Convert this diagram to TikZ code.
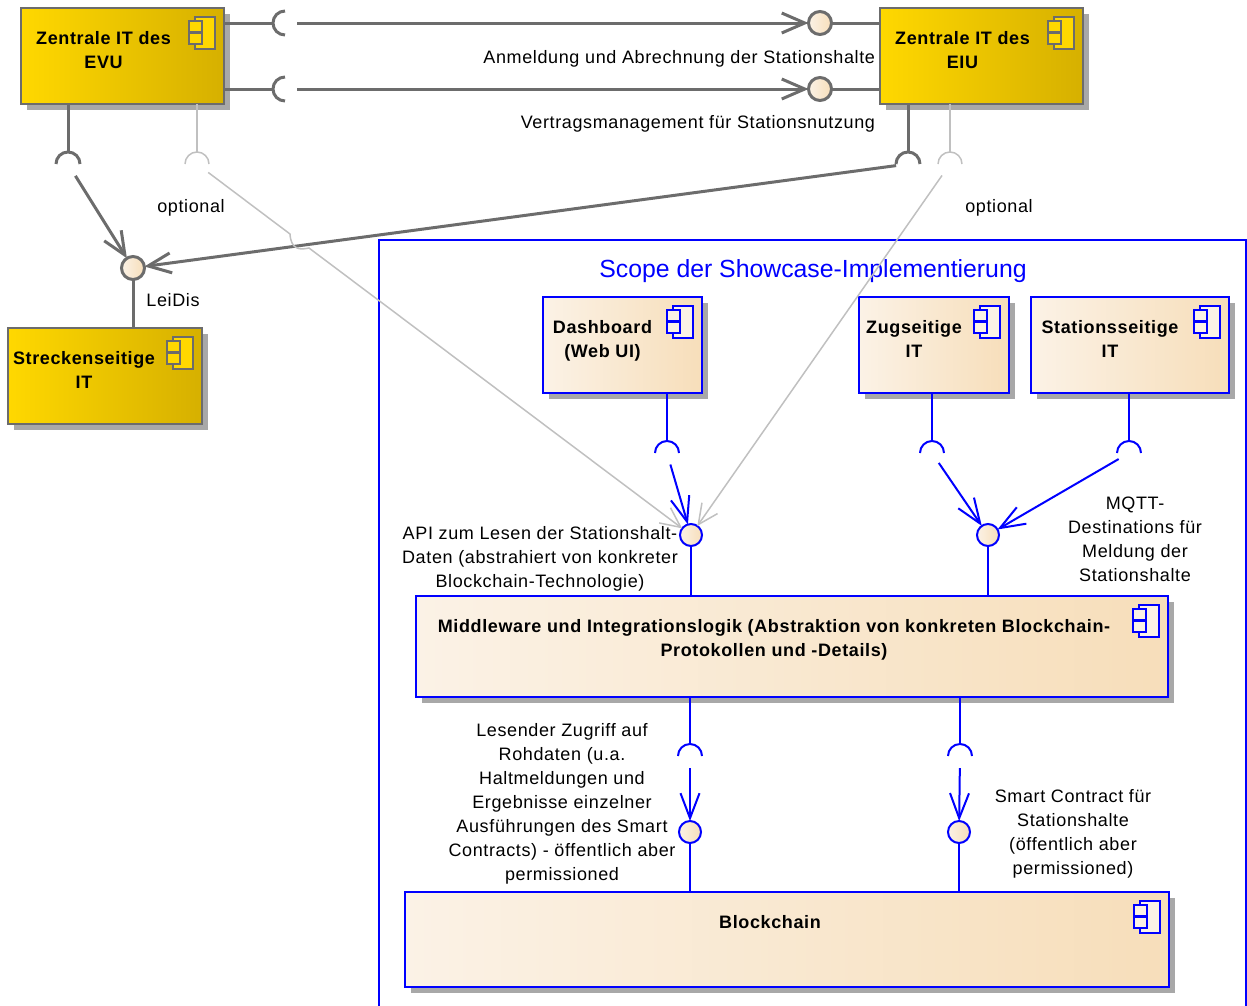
\documentclass[tikz,border=0pt]{standalone}
\usepackage{fontspec}
\setmainfont{Liberation Sans}[LetterSpace=3.5]
\newfontfamily\titlefont{Liberation Sans}
\usetikzlibrary{shadows,positioning,arrows.meta,calc}

\definecolor{umlblue}{RGB}{0,0,255}
\definecolor{umlgrey}{RGB}{108,108,108}
\definecolor{optgrey}{RGB}{192,192,192}
\definecolor{shadowgrey}{RGB}{168,168,168}
\definecolor{goldL}{RGB}{255,216,0}
\definecolor{goldR}{RGB}{214,176,0}
\definecolor{beigeL}{RGB}{251,242,230}
\definecolor{beigeR}{RGB}{247,222,186}

\tikzset{every node/.style={font=\fontsize{18}{24}\selectfont, inner sep=0pt, outer sep=0pt},
        component/.style={draw, anchor=north west,
                          drop shadow={shadow xshift=6pt, shadow yshift=-6pt, fill=shadowgrey, opacity=1}},
        extcomp/.style={component, draw=umlgrey, line width=1.5pt, left color=goldL, right color=goldR},
        scopecomp/.style={component, draw=umlblue, line width=2pt, left color=beigeL, right color=beigeR},
        comptext/.style={anchor=north, align=center, font=\fontsize{18}{24}\selectfont\bfseries},
        lbl/.style={align=center},
        darkprov/.style={circle, draw=umlgrey, line width=3pt, minimum size=23pt, left color=beigeL, right color=beigeR},
        blueprov/.style={circle, draw=umlblue, line width=2pt, minimum size=22pt, left color=beigeL, right color=beigeR},
        darkconn/.style={draw=umlgrey, line width=3pt},
        optconn/.style={draw=optgrey, line width=1.5pt},
        blueconn/.style={draw=umlblue, line width=2pt},
        usearrow/.style={-{Straight Barb[length=23pt, width=20pt]}},
        bluearrow/.style={-{Straight Barb[length=25pt, width=19pt]}},
        optarrow/.style={-{Straight Barb[length=20pt, width=19pt]}},
        compicon/.pic={
            \path[pic actions] (-29,-9) rectangle (-9,-41);
            \path[pic actions] (-35,-13) rectangle (-22,-24);
            \path[pic actions] (-35,-25) rectangle (-22,-36);
        },
        }

\begin{document}
\begin{tikzpicture}[x=1pt, y=1pt]
    \useasboundingbox (0,0) rectangle (1247,-1005);
    \clip (0,0) rectangle (1247,-1005);

    % scope frame
    \draw[umlblue, line width=2pt] (379,-1010) |- (1246,-240) -- (1246,-1010);
    \node[font=\titlefont\fontsize{24.8}{30}\selectfont, text=umlblue, anchor=base] (scopetitle) at (813,-277) {Scope der Showcase-Implementierung};

    % components
    \node[extcomp, minimum width=203pt, minimum height=96pt] (evu) at (21,-8) {};
    \node[extcomp, minimum width=203pt, minimum height=96pt] (eiu) at (880,-8) {};
    \node[extcomp, minimum width=194pt, minimum height=96pt] (strecke) at (8,-328) {};
    \node[scopecomp, minimum width=159pt, minimum height=96pt] (dash) at (543,-297) {};
    \node[scopecomp, minimum width=150pt, minimum height=96pt] (zug) at (859,-297) {};
    \node[scopecomp, minimum width=198pt, minimum height=96pt] (stat) at (1031,-297) {};
    \node[scopecomp, minimum width=752pt, minimum height=101pt] (mw) at (416,-596) {};
    \node[scopecomp, minimum width=764pt, minimum height=95pt] (bc) at (405,-892) {};

    \node[comptext] (evutext) at ([xshift=-19pt, yshift=-23pt]evu.north) {Zentrale IT des\\EVU};
    \node[comptext] (eiutext) at ([xshift=-19pt, yshift=-23pt]eiu.north) {Zentrale IT des\\EIU};
    \node[comptext] (strecketext) at ([xshift=-21pt, yshift=-23pt]strecke.north) {Streckenseitige\\IT};
    \node[comptext] (dashtext) at ([xshift=-20pt, yshift=-23pt]dash.north) {Dashboard\\(Web UI)};
    \node[comptext] (zugtext) at ([xshift=-20pt, yshift=-23pt]zug.north) {Zugseitige\\IT};
    \node[comptext] (stattext) at ([xshift=-20pt, yshift=-23pt]stat.north) {Stationsseitige\\IT};
    \node[comptext] (mwtext) at ([xshift=-18pt, yshift=-23pt]mw.north) {Middleware und Integrationslogik (Abstraktion von konkreten Blockchain-\\Protokollen und -Details)};
    \node[comptext] (bctext) at ([xshift=-17pt, yshift=-23pt]bc.north) {Blockchain};

    \foreach \c in {evu,eiu,strecke}
        \pic[draw=umlgrey, fill=goldL, line width=1.5pt] at (\c.north east) {compicon};
    \foreach \c in {dash,zug,stat,mw,bc}
        \pic[draw=umlblue, fill=beigeL, line width=1.5pt] at (\c.north east) {compicon};

    % provided interfaces
    \node[darkprov] (anm) at (820,-23) {};
    \node[darkprov] (vtr) at (820,-89) {};
    \node[darkprov] (leidis) at (133,-268) {};
    \node[blueprov] (api) at (691,-535) {};
    \node[blueprov] (mqtt) at (988,-535) {};
    \node[blueprov] (rohd) at (690,-832) {};
    \node[blueprov] (smart) at (959,-832) {};

    % required interfaces
    \coordinate (sanm) at (285,-23);
    \coordinate (svtr) at (285,-89);
    \coordinate (sevu) at (68,-164);
    \coordinate (sevuopt) at (197,-164);
    \coordinate (seiu) at (908,-164);
    \coordinate (seiuopt) at (950,-164);
    \coordinate (sdash) at (667,-453);
    \coordinate (szug) at (932,-453);
    \coordinate (sstat) at (1129,-453);
    \coordinate (srohd) at (690,-756);
    \coordinate (ssmart) at (960,-756);

    % EVU <-> EIU
    \foreach \s/\p in {sanm/anm, svtr/vtr} {
        \draw[darkconn] (evu.east |- \s) -- ([xshift=-12pt]\s);
        \draw[darkconn] ([yshift=12pt]\s) arc (90:270:12pt);
        \draw[darkconn, usearrow, shorten <=12pt] (\s) -- (\p);
        \draw[darkconn] (\p) -- (\p -| eiu.west);
    }

    % sockets below the outer components
    \draw[darkconn] (sevu |- evu.south) -- ([yshift=12pt]sevu);
    \draw[darkconn] (seiu |- eiu.south) -- ([yshift=12pt]seiu);
    \draw[optconn] (sevuopt |- evu.south) -- ([yshift=12pt]sevuopt);
    \draw[optconn] (seiuopt |- eiu.south) -- ([yshift=12pt]seiuopt);
    \foreach \s in {sevu,seiu}
        \draw[darkconn] ([xshift=12pt]\s) arc (0:180:12pt);
    \foreach \s in {sevuopt,seiuopt}
        \draw[optconn] ([xshift=12pt]\s) arc (0:180:12pt);

    % LeiDis
    \draw[darkconn, usearrow, shorten <=14pt] (sevu) -- (leidis);
    \draw[darkconn, usearrow, shorten <=12pt] (seiu) -- (leidis);
    \draw[darkconn] (leidis) -- (leidis |- strecke.north);

    % optional access to the API
    \draw[optconn, optarrow] ($(sevuopt)!14pt!(api)$) -- (290,-234)
        .. controls (291,-250) and (300,-250) .. (309,-248) -- (api);
    \draw[optconn, optarrow, shorten <=14pt] (seiuopt) -- (api);

    % inside the scope
    \draw[blueconn] (sdash |- dash.south) -- ([yshift=12pt]sdash);
    \draw[blueconn] (szug |- zug.south) -- ([yshift=12pt]szug);
    \draw[blueconn] (sstat |- stat.south) -- ([yshift=12pt]sstat);
    \draw[blueconn] (srohd |- mw.south) -- ([yshift=12pt]srohd);
    \draw[blueconn] (ssmart |- mw.south) -- ([yshift=12pt]ssmart);
    \foreach \s in {sdash,szug,sstat,srohd,ssmart}
        \draw[blueconn] ([xshift=12pt]\s) arc (0:180:12pt);

    \draw[blueconn, bluearrow, shorten <=12pt] (sdash) -- (api);
    \draw[blueconn, bluearrow, shorten <=12pt] (szug) -- (mqtt);
    \draw[blueconn, bluearrow, shorten <=12pt] (sstat) -- (mqtt);
    \draw[blueconn, bluearrow, shorten <=12pt] (srohd) -- (rohd);
    \draw[blueconn, bluearrow, shorten <=12pt] (ssmart) -- (smart);

    \draw[blueconn] (api) -- (api |- mw.north);
    \draw[blueconn] (mqtt) -- (mqtt |- mw.north);
    \draw[blueconn] (rohd) -- (rohd |- bc.north);
    \draw[blueconn] (smart) -- (smart |- bc.north);

    % labels
    \node[lbl, anchor=base east] (lanm) at (875,-63) {Anmeldung und Abrechnung der Stationshalte};
    \node[lbl, anchor=base east] (lvtr) at (875,-128) {Vertragsmanagement für Stationsnutzung};
    \node[lbl, anchor=base] (lopt1) at (191,-212) {optional};
    \node[lbl, anchor=base] (lopt2) at (999,-212) {optional};
    \node[lbl, anchor=base] (lleidis) at (173,-306) {LeiDis};
    \node[lbl, anchor=north] (lapi) at (540,-526.5) {API zum Lesen der Stationshalt-\\Daten (abstrahiert von konkreter\\Blockchain-Technologie)};
    \node[lbl, anchor=north] (lmqtt) at (1135,-497) {MQTT-\\Destinations für\\Meldung der\\Stationshalte};
    \node[lbl, anchor=north] (lrohd) at (562,-723) {Lesender Zugriff auf\\Rohdaten (u.a.\\Haltmeldungen und\\Ergebnisse einzelner\\Ausführungen des Smart\\Contracts) - öffentlich aber\\permissioned};
    \node[lbl, anchor=north] (lsmart) at (1073,-789) {Smart Contract für\\Stationshalte\\(öffentlich aber\\permissioned)};
\end{tikzpicture}
\end{document}
